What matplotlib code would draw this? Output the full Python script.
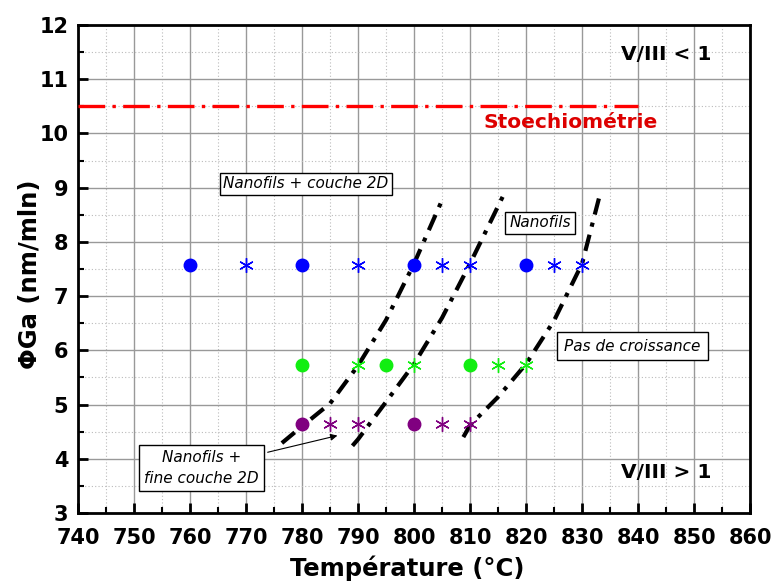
import matplotlib
matplotlib.use("Agg")
import matplotlib.pyplot as plt
from matplotlib.ticker import MultipleLocator

plt.rcParams['font.family'] = ['DejaVu Sans']

# points de croissance (T en °C, flux Ga)
bleu_ronds_T = [760, 780, 800, 820]
bleu_etoiles_T = [770, 790, 805, 810, 825, 830]
bleu_phi = 7.57

vert_ronds_T = [780, 795, 810]
vert_etoiles_T = [790, 800, 815, 820]
vert_phi = 5.73

violet_ronds_T = [780, 800]
violet_etoiles_T = [785, 790, 805, 810]
violet_phi = 4.65

# frontieres entre regimes
front1_T = [776.4, 780, 785, 790, 795, 800, 805]
front1_phi = [4.29, 4.6, 5.02, 5.72, 6.56, 7.6, 8.77]
front2_T = [789, 790, 795, 800, 805, 810, 816]
front2_phi = [4.24, 4.36, 5.05, 5.75, 6.6, 7.6, 8.87]
front3_T = [808.8, 810, 815, 820, 825, 830, 833]
front3_phi = [4.4, 4.62, 5.14, 5.75, 6.55, 7.6, 8.8]

stoechio = 10.5

fig = plt.figure(figsize=(7.77, 5.81), dpi=100)
ax = fig.add_axes([0.1004, 0.117, 0.865, 0.840])

ast = (6, 2, 0)
ax.plot(bleu_ronds_T, [bleu_phi]*len(bleu_ronds_T), 'o', color='#0000ff', ms=9, zorder=5)
ax.plot(bleu_etoiles_T, [bleu_phi]*len(bleu_etoiles_T), marker=ast, ls='none', color='#0000ff', ms=10.5, mew=1, zorder=5)
ax.plot(vert_ronds_T, [vert_phi]*len(vert_ronds_T), 'o', color='#11ee11', ms=9, zorder=5)
ax.plot(vert_etoiles_T, [vert_phi]*len(vert_etoiles_T), marker=ast, ls='none', color='#11ee11', ms=10.5, mew=1, zorder=5)
ax.plot(violet_ronds_T, [violet_phi]*len(violet_ronds_T), 'o', color='#800080', ms=9, zorder=5)
ax.plot(violet_etoiles_T, [violet_phi]*len(violet_etoiles_T), marker=ast, ls='none', color='#800080', ms=10.5, mew=1, zorder=5)

for T, phi in [(front1_T, front1_phi), (front2_T, front2_phi), (front3_T, front3_phi)]:
    ax.plot(T, phi, color='black', lw=3, ls=(0, (4, 2, 1, 2)), zorder=4)

ax.plot([740, 840], [stoechio, stoechio], color='red', lw=2.4, ls=(0, (8, 2.2, 1, 2.2)), zorder=4)
ax.text(828, 10.2, 'Stoechiométrie', color='#dd0000', fontsize=14.5, fontweight='bold',
        ha='center', va='center')
ax.text(845, 11.45, 'V/III < 1', fontsize=14.5, fontweight='bold', ha='center', va='center')
ax.text(845, 3.74, 'V/III > 1', fontsize=14.5, fontweight='bold', ha='center', va='center')

boite = dict(boxstyle='square,pad=0.25', fc='white', ec='black', lw=1)
ax.text(780.7, 9.07, 'Nanofils + couche 2D', style='italic', fontsize=11,
        ha='center', va='center', bbox=boite, zorder=6)
ax.text(822.5, 8.35, 'Nanofils', style='italic', fontsize=11,
        ha='center', va='center', bbox=boite, zorder=6)
ax.text(839, 6.08, 'Pas de croissance', style='italic', fontsize=11,
        ha='center', va='center', bbox=dict(boxstyle='square,pad=0.45', fc='white', ec='black', lw=1),
        zorder=6)
ax.annotate('Nanofils +\nfine couche 2D', xy=(786.8, 4.44), xytext=(762.1, 3.83),
            style='italic', fontsize=11, ha='center', va='center', linespacing=1.5,
            bbox=dict(boxstyle='square,pad=0.35', fc='white', ec='black', lw=1),
            arrowprops=dict(arrowstyle='-|>', color='black', lw=0.8, mutation_scale=10),
            zorder=6)

ax.set_xlim(740, 860)
ax.set_ylim(3, 12)
ax.xaxis.set_major_locator(MultipleLocator(10))
ax.xaxis.set_minor_locator(MultipleLocator(5))
ax.yaxis.set_major_locator(MultipleLocator(1))
ax.yaxis.set_minor_locator(MultipleLocator(0.5))
ax.grid(which='major', color='#999999', lw=1, ls='-')
ax.grid(which='minor', color='#bbbbbb', lw=0.8, ls=(0, (1, 2)))
ax.set_axisbelow(True)

ax.tick_params(which='major', direction='in', length=7, width=2, labelsize=15)
ax.tick_params(axis='x', which='major', pad=11)
ax.tick_params(axis='y', which='major', pad=7)
ax.tick_params(which='minor', direction='in', length=4, width=1.5)
for lab in ax.get_xticklabels() + ax.get_yticklabels():
    lab.set_fontweight('bold')
for s in ax.spines.values():
    s.set_linewidth(2)

ax.set_xlabel('Température (°C)', fontsize=17.5, fontweight='bold')
ax.xaxis.set_label_coords(0.49, -0.087, transform=ax.transAxes)
ax.xaxis.label.set_va('top')
ax.set_ylabel('ΦGa (nm/mln)', fontsize=17.5, fontweight='bold')
ax.yaxis.set_label_coords(-0.054, 0.49)

fig.savefig('out.png', dpi=100)
